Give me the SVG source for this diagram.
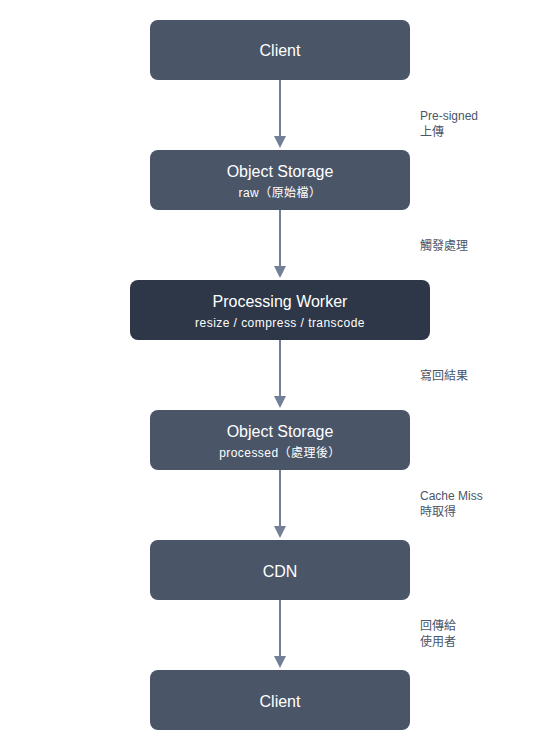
<svg xmlns="http://www.w3.org/2000/svg" width="560" height="750" viewBox="0 0 560 750">
<style>
text{font-family:"Liberation Sans","Noto Sans CJK TC",sans-serif;}
.n{fill:#4a5568;}
.d{fill:#2d3748;}
.t{fill:#ffffff;font-size:16px;text-anchor:middle;}
.s{fill:#ffffff;font-size:12px;text-anchor:middle;letter-spacing:0.45px;}
.l{fill:#4a5568;font-size:12px;}
.c{stroke:#718096;stroke-width:2;fill:none;}
.h{fill:#718096;}
</style>
<rect width="560" height="750" fill="#ffffff"/>
<g id="connectors">
<line class="c" x1="280" y1="80" x2="280" y2="138"/><polygon class="h" points="274,136 286,136 280,148"/>
<line class="c" x1="280" y1="210" x2="280" y2="268"/><polygon class="h" points="274,266 286,266 280,278"/>
<line class="c" x1="280" y1="340" x2="280" y2="398"/><polygon class="h" points="274,396 286,396 280,408"/>
<line class="c" x1="280" y1="470" x2="280" y2="528"/><polygon class="h" points="274,526 286,526 280,538"/>
<line class="c" x1="280" y1="600" x2="280" y2="658"/><polygon class="h" points="274,656 286,656 280,668"/>
<text class="l" x="420" y="120">Pre-signed</text><text class="l" x="420" y="136">上傳</text>
<text class="l" x="420" y="250">觸發處理</text>
<text class="l" x="420" y="380">寫回結果</text>
<text class="l" x="420" y="500">Cache Miss</text><text class="l" x="420" y="516">時取得</text>
<text class="l" x="420" y="630">回傳給</text><text class="l" x="420" y="646">使用者</text>
</g>
<g id="client1"><rect class="n" x="150" y="20" width="260" height="60" rx="8"/><text class="t" x="280" y="56">Client</text></g>
<g id="storage-raw"><rect class="n" x="150" y="150" width="260" height="60" rx="8"/><text class="t" x="280" y="177">Object Storage</text><text class="s" x="280" y="197">raw（原始檔）</text></g>
<g id="worker"><rect class="d" x="130" y="280" width="300" height="60" rx="8"/><text class="t" x="280" y="307">Processing Worker</text><text class="s" x="280" y="327">resize / compress / transcode</text></g>
<g id="storage-processed"><rect class="n" x="150" y="410" width="260" height="60" rx="8"/><text class="t" x="280" y="437">Object Storage</text><text class="s" x="280" y="457">processed（處理後）</text></g>
<g id="cdn"><rect class="n" x="150" y="540" width="260" height="60" rx="8"/><text class="t" x="280" y="577">CDN</text></g>
<g id="client2"><rect class="n" x="150" y="670" width="260" height="60" rx="8"/><text class="t" x="280" y="707">Client</text></g>
</svg>
